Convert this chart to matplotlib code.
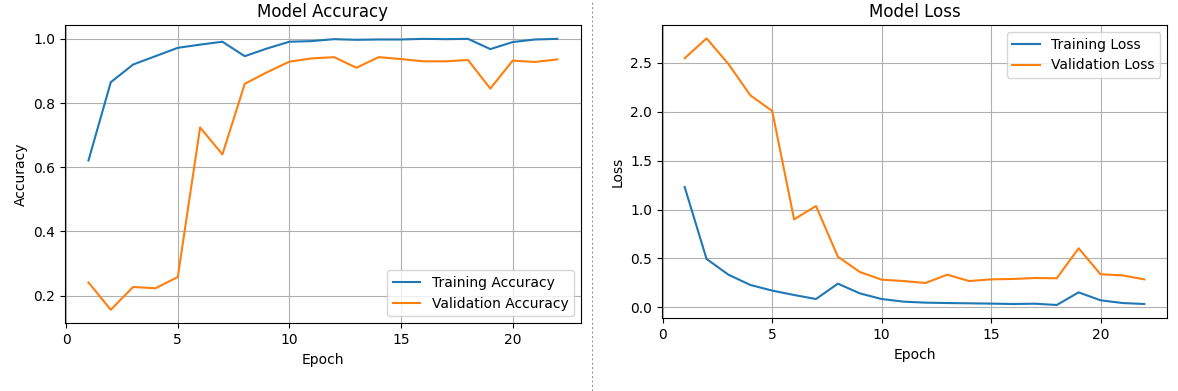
import matplotlib
matplotlib.use("Agg")
import matplotlib.pyplot as plt
from matplotlib.lines import Line2D

epochs = list(range(1, 23))
train_acc = [0.621, 0.865, 0.920, 0.946, 0.972, 0.982, 0.991, 0.946, 0.970, 0.991, 0.993,
             0.999, 0.997, 0.998, 0.998, 1.000, 0.999, 1.000, 0.968, 0.990, 0.998, 1.000]
val_acc = [0.241, 0.156, 0.227, 0.223, 0.258, 0.724, 0.640, 0.860, 0.896, 0.929, 0.939,
           0.943, 0.910, 0.943, 0.937, 0.930, 0.930, 0.934, 0.845, 0.932, 0.928, 0.936]
train_loss = [1.231, 0.495, 0.334, 0.229, 0.171, 0.126, 0.085, 0.242, 0.143, 0.085, 0.058,
              0.048, 0.044, 0.041, 0.038, 0.034, 0.037, 0.024, 0.153, 0.072, 0.044, 0.034]
val_loss = [2.548, 2.752, 2.490, 2.169, 2.009, 0.900, 1.037, 0.518, 0.362, 0.283, 0.269,
            0.249, 0.334, 0.269, 0.286, 0.290, 0.300, 0.297, 0.604, 0.338, 0.327, 0.286]

fig = plt.figure(figsize=(11.78, 3.91), dpi=100)
ax1 = fig.add_axes([0.0552, 0.1731, 0.4378, 0.7622])
ax2 = fig.add_axes([0.5617, 0.1859, 0.4292, 0.7501])

ax1.plot(epochs, train_acc, label="Training Accuracy")
ax1.plot(epochs, val_acc, label="Validation Accuracy")
ax1.set_title("Model Accuracy")
ax1.set_xlabel("Epoch")
ax1.set_ylabel("Accuracy")
ax1.legend(loc="lower right")
ax1.grid(True)

ax2.plot(epochs, train_loss, label="Training Loss")
ax2.plot(epochs, val_loss, label="Validation Loss")
ax2.set_title("Model Loss")
ax2.set_xlabel("Epoch")
ax2.set_ylabel("Loss")
ax2.legend(loc="upper right")
ax2.grid(True)

fig.add_artist(Line2D([592.3 / 1178, 592.3 / 1178], [0, 1], transform=fig.transFigure,
                      color="#999999", linestyle=(0, (2, 2)), linewidth=0.8))

fig.savefig("out.png", dpi=100)
